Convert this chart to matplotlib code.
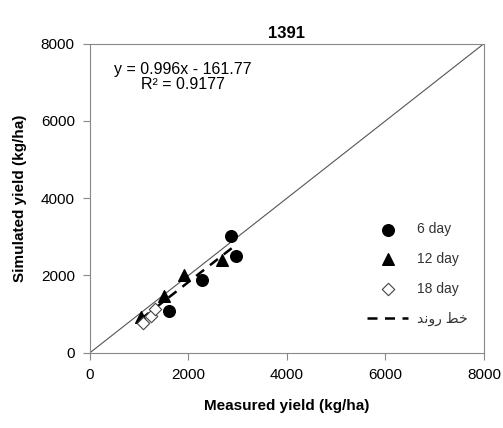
import matplotlib.pyplot as plt
import numpy as np

# measured vs simulated yield (kg/ha)
day6_meas = [2857, 2964, 2268, 1610]
day6_sim = [3030, 2490, 1890, 1090]
day12_meas = [1915, 2674, 1509, 1036]
day12_sim = [2000, 2400, 1460, 920]
day18_meas = [1083, 1232, 1320]
day18_sim = [760, 960, 1130]

slope = 0.996
intercept = -161.77
r2 = 0.9177
ticks = [0, 2000, 4000, 6000, 8000]

# visual-order presentation forms of "خط روند"
trend_label = "\uFEAA\uFEE7\uFEED\uFEAD \uFEC2\uFEA7"

plt.rcParams["font.family"] = ["Liberation Sans", "DejaVu Sans"]

fig = plt.figure(figsize=(5.03, 4.28), dpi=100)
ax = fig.add_axes([0.179, 0.176, 0.783, 0.722])

ax.plot([0, 8000], [0, 8000], color="#555555", lw=0.8, zorder=1)

ax.scatter(day6_meas, day6_sim, marker="o", s=70, color="black", label="6 day", zorder=3)
ax.scatter(day12_meas, day12_sim, marker="^", s=70, color="black", label="12 day", zorder=3)
ax.scatter(day18_meas, day18_sim, marker="D", s=40, facecolor="white",
           edgecolor="#444444", lw=0.8, label="18 day", zorder=3)

all_x = np.array(day6_meas + day12_meas + day18_meas)
tx = np.array([all_x.min(), all_x.max()])
ax.plot(tx, slope * tx + intercept, color="black", lw=1.8, ls=(0, (4, 3)),
        label=trend_label, zorder=2)

ax.text(0.236, 0.94, f"y = {slope}x - {abs(intercept)}\nR\u00b2 = {r2}",
        transform=ax.transAxes, ha="center", va="top", fontsize=11.5,
        linespacing=1.0, multialignment="center")

ax.set_xlim(0, 8000)
ax.set_ylim(0, 8000)
ax.set_xticks(ticks)
ax.set_yticks(ticks)
ax.tick_params(direction="out", length=5, color="#888888", labelsize=11, pad=6)
for sp in ax.spines.values():
    sp.set_color("#888888")

ax.set_title("1391", fontsize=12, fontweight="bold", pad=4)
ax.set_xlabel("Measured yield (kg/ha)", fontsize=11, fontweight="bold", labelpad=12)
ax.set_ylabel("Simulated yield (kg/ha)", fontsize=11, fontweight="bold", labelpad=10)

leg = ax.legend(loc="lower right", bbox_to_anchor=(0.99, 0.045), frameon=False,
                fontsize=10, labelspacing=1.15, handlelength=3.0, handletextpad=0.6,
                scatterpoints=1, labelcolor="#333333")

fig.savefig("out.png", dpi=100)
